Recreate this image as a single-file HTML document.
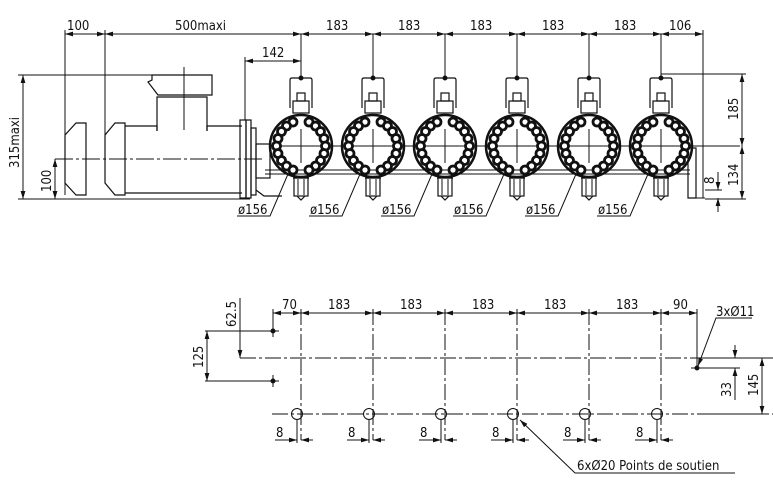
<!DOCTYPE html>
<html><head><meta charset="utf-8"><style>
html,body{margin:0;padding:0;background:#fff;}
svg{display:block;}
text{font-family:"DejaVu Sans Condensed","Liberation Sans",sans-serif;font-size:13px;fill:#111;}
</style></head><body>
<svg width="773" height="484" viewBox="0 0 773 484" xmlns="http://www.w3.org/2000/svg">
<defs>
<marker id="a" viewBox="0 0 10 6" refX="10" refY="3" markerWidth="8" markerHeight="5" orient="auto-start-reverse"><path d="M0,0L10,3L0,6z" fill="#111"/></marker>
<g id="pump" fill="none" stroke="#111">
 <line x1="0" y1="-112" x2="0" y2="-68" stroke-width="1"/>
 <circle cx="0" cy="-68" r="2" fill="#111"/>
 <path d="M-11,-38V-66Q-11,-68 -9,-68H9Q11,-68 11,-66V-38" stroke-width="1.2"/>
 <rect x="-4" y="-53" width="8" height="8" stroke-width="1.2"/>
 <rect x="-8" y="-45" width="16" height="12" stroke-width="1.2"/>
 <circle r="31" stroke-width="2.5"/>
 <g stroke-width="2.8" fill="#fff">
  <circle cx="-8" cy="-24" r="4"/><circle cx="-14.5" cy="-20" r="4"/><circle cx="-19.5" cy="-14.5" r="4"/><circle cx="-23" cy="-7.5" r="4"/><circle cx="-24.5" cy="0" r="4"/><circle cx="-23" cy="7.5" r="4"/><circle cx="-19.5" cy="14.5" r="4"/><circle cx="-14.5" cy="20" r="4"/><circle cx="-8" cy="24" r="4"/>
  <circle cx="8" cy="-24" r="4"/><circle cx="14.5" cy="-20" r="4"/><circle cx="19.5" cy="-14.5" r="4"/><circle cx="23" cy="-7.5" r="4"/><circle cx="24.5" cy="0" r="4"/><circle cx="23" cy="7.5" r="4"/><circle cx="19.5" cy="14.5" r="4"/><circle cx="14.5" cy="20" r="4"/><circle cx="8" cy="24" r="4"/>
 </g>
 <line x1="-17" y1="0" x2="17" y2="0" stroke-width="1"/><line x1="0" y1="-17" x2="0" y2="17" stroke-width="1"/>
 <rect x="-7" y="32" width="14" height="18" stroke-width="1.2"/>
 <line x1="-3" y1="33" x2="-3" y2="49" stroke-width="1"/><line x1="3" y1="33" x2="3" y2="49" stroke-width="1"/>
 <path d="M-4,50L0,54L4,50" stroke-width="1.2"/>
 <line x1="-8" y1="32" x2="8" y2="32" stroke-width="1.2"/>
</g>
</defs>

<g fill="none" stroke="#111" stroke-width="1">
 <line x1="65" y1="34" x2="105" y2="34" marker-start="url(#a)" marker-end="url(#a)"/>
 <line x1="105" y1="34" x2="301" y2="34" marker-start="url(#a)" marker-end="url(#a)"/>
 <line x1="301" y1="34" x2="373" y2="34" marker-start="url(#a)" marker-end="url(#a)"/>
 <line x1="373" y1="34" x2="445" y2="34" marker-start="url(#a)" marker-end="url(#a)"/>
 <line x1="445" y1="34" x2="517" y2="34" marker-start="url(#a)" marker-end="url(#a)"/>
 <line x1="517" y1="34" x2="589" y2="34" marker-start="url(#a)" marker-end="url(#a)"/>
 <line x1="589" y1="34" x2="661" y2="34" marker-start="url(#a)" marker-end="url(#a)"/>
 <line x1="661" y1="34" x2="703" y2="34" marker-start="url(#a)" marker-end="url(#a)"/>
 <line x1="65" y1="30" x2="65" y2="195"/>
 <line x1="105" y1="30" x2="105" y2="138"/>
 <line x1="703" y1="30" x2="703" y2="198"/>
 <line x1="245" y1="61" x2="301" y2="61" marker-start="url(#a)" marker-end="url(#a)"/>
 <line x1="245" y1="57" x2="245" y2="120"/>
 <line x1="18" y1="75" x2="212" y2="75"/>
 <line x1="23" y1="75" x2="23" y2="199" marker-start="url(#a)" marker-end="url(#a)"/>
 <line x1="18" y1="199" x2="250" y2="199"/>
 <line x1="55" y1="159" x2="55" y2="199" marker-start="url(#a)" marker-end="url(#a)"/>
 <path d="M86,123H76L65,135V183L76,195H86Z" stroke-width="1.2"/>
 <path d="M125,123H115L105,135V183L115,195H125Z" stroke-width="1.2"/>
 <path d="M125,126H157V131M207,131V126H242M125,193H242" stroke-width="1.2"/>
 <path d="M157,131V97H207V131" stroke-width="1.2"/>
 <path d="M152,75H212V95H158L148,82L152,80Z" stroke-width="1.2"/>
 <rect x="240" y="120" width="6" height="78" stroke-width="1.2"/>
 <rect x="246" y="120" width="5" height="78" stroke-width="1.2"/>
 <rect x="251" y="128" width="5" height="67" stroke-width="1.2"/>
 <rect x="256" y="144" width="14" height="34" stroke-width="1.2"/>
 <path d="M256,190L264,196H282" stroke-width="1.2"/>
 <line x1="184" y1="67" x2="184" y2="130"/>
 <line x1="55" y1="159" x2="265" y2="159" stroke-dasharray="18,3,3,3"/>
 <line x1="270" y1="146" x2="740" y2="146"/>
 <line x1="265" y1="174" x2="690" y2="174"/>
 <line x1="265" y1="170" x2="690" y2="170"/>
 <path d="M688,148H696V198H688Z" stroke-width="1.2"/>
 <path d="M688,198H705"/>
 <line x1="661" y1="74" x2="746" y2="74"/>
 <line x1="742" y1="74" x2="742" y2="146" marker-start="url(#a)" marker-end="url(#a)"/>
 <line x1="742" y1="146" x2="742" y2="199" marker-start="url(#a)" marker-end="url(#a)"/>
 <line x1="705" y1="199" x2="746" y2="199"/>
 <line x1="718" y1="172" x2="718" y2="190" marker-end="url(#a)"/>
 <line x1="718" y1="212" x2="718" y2="198" marker-end="url(#a)"/>
 <line x1="705" y1="190" x2="722" y2="190"/>
</g>
<use href="#pump" x="301" y="146"/><use href="#pump" x="373" y="146"/><use href="#pump" x="445" y="146"/>
<use href="#pump" x="517" y="146"/><use href="#pump" x="589" y="146"/><use href="#pump" x="661" y="146"/>

<g stroke="#111" stroke-width="1" fill="none">
 <path d="M237,216H270L288,174"/><path d="M309,216H342L360,174"/><path d="M381,216H414L432,174"/>
 <path d="M453,216H486L504,174"/><path d="M525,216H558L576,174"/><path d="M597,216H630L648,174"/>
</g>
<g>
<text x="67" y="30">100</text><text x="175" y="30">500maxi</text>
<text x="326" y="30">183</text><text x="398" y="30">183</text><text x="470" y="30">183</text><text x="542" y="30">183</text><text x="614" y="30">183</text><text x="669" y="30">106</text>
<text x="262" y="57">142</text>
<text transform="translate(19,168) rotate(-90)">315maxi</text>
<text transform="translate(51,192) rotate(-90)">100</text>
<text transform="translate(738,120) rotate(-90)">185</text>
<text transform="translate(738,186) rotate(-90)">134</text>
<text transform="translate(714,184) rotate(-90)">8</text>
<text x="238" y="214">ø156</text><text x="310" y="214">ø156</text><text x="382" y="214">ø156</text>
<text x="454" y="214">ø156</text><text x="526" y="214">ø156</text><text x="598" y="214">ø156</text>
</g>

<g fill="none" stroke="#111" stroke-width="1">
 <line x1="273" y1="313" x2="301" y2="313" marker-start="url(#a)" marker-end="url(#a)"/>
 <line x1="301" y1="313" x2="373" y2="313" marker-start="url(#a)" marker-end="url(#a)"/>
 <line x1="373" y1="313" x2="445" y2="313" marker-start="url(#a)" marker-end="url(#a)"/>
 <line x1="445" y1="313" x2="517" y2="313" marker-start="url(#a)" marker-end="url(#a)"/>
 <line x1="517" y1="313" x2="589" y2="313" marker-start="url(#a)" marker-end="url(#a)"/>
 <line x1="589" y1="313" x2="661" y2="313" marker-start="url(#a)" marker-end="url(#a)"/>
 <line x1="661" y1="313" x2="697" y2="313" marker-start="url(#a)" marker-end="url(#a)"/>
 <line x1="273" y1="309" x2="273" y2="328"/>
 <line x1="697" y1="309" x2="697" y2="368"/>
 <g stroke-dasharray="16,3,3,3">
  <line x1="301" y1="309" x2="301" y2="440"/><line x1="373" y1="309" x2="373" y2="440"/><line x1="445" y1="309" x2="445" y2="440"/>
  <line x1="517" y1="309" x2="517" y2="440"/><line x1="589" y1="309" x2="589" y2="440"/><line x1="661" y1="309" x2="661" y2="440"/>
  <line x1="240" y1="358" x2="773" y2="358"/>
  <line x1="272" y1="414" x2="773" y2="414"/>
 </g>
 <line x1="297" y1="420" x2="297" y2="443"/><line x1="369" y1="420" x2="369" y2="443"/><line x1="441" y1="420" x2="441" y2="443"/>
 <line x1="513" y1="420" x2="513" y2="443"/><line x1="585" y1="420" x2="585" y2="443"/><line x1="657" y1="420" x2="657" y2="443"/>
 <circle cx="297" cy="414" r="5.5"/><circle cx="369" cy="414" r="5.5"/><circle cx="441" cy="414" r="5.5"/>
 <circle cx="513" cy="414" r="5.5"/><circle cx="585" cy="414" r="5.5"/><circle cx="657" cy="414" r="5.5"/>
 <g>
  <line x1="275" y1="440" x2="297" y2="440" marker-end="url(#a)"/><line x1="313" y1="440" x2="301" y2="440" marker-end="url(#a)"/>
  <line x1="347" y1="440" x2="369" y2="440" marker-end="url(#a)"/><line x1="385" y1="440" x2="373" y2="440" marker-end="url(#a)"/>
  <line x1="419" y1="440" x2="441" y2="440" marker-end="url(#a)"/><line x1="457" y1="440" x2="445" y2="440" marker-end="url(#a)"/>
  <line x1="491" y1="440" x2="513" y2="440" marker-end="url(#a)"/><line x1="529" y1="440" x2="517" y2="440" marker-end="url(#a)"/>
  <line x1="563" y1="440" x2="585" y2="440" marker-end="url(#a)"/><line x1="601" y1="440" x2="589" y2="440" marker-end="url(#a)"/>
  <line x1="635" y1="440" x2="657" y2="440" marker-end="url(#a)"/><line x1="673" y1="440" x2="661" y2="440" marker-end="url(#a)"/>
 </g>
 <circle cx="273" cy="331" r="2" fill="#111"/><circle cx="273" cy="381" r="2" fill="#111"/><circle cx="697" cy="368" r="2" fill="#111"/>
 <path d="M267,331H279M273,325V337M267,381H279M273,375V387M691,368H703"/>
 <line x1="205" y1="331" x2="268" y2="331"/><line x1="205" y1="381" x2="268" y2="381"/>
 <line x1="207" y1="331" x2="207" y2="381" marker-start="url(#a)" marker-end="url(#a)"/>
 <line x1="240" y1="298" x2="240" y2="358" marker-end="url(#a)"/>
 <line x1="703" y1="358" x2="766" y2="358"/><line x1="703" y1="414" x2="766" y2="414"/>
 <line x1="762" y1="358" x2="762" y2="414" marker-start="url(#a)" marker-end="url(#a)"/>
 <line x1="703" y1="368" x2="740" y2="368"/>
 <line x1="735" y1="345" x2="735" y2="358" marker-end="url(#a)"/>
 <line x1="735" y1="400" x2="735" y2="368" marker-end="url(#a)"/>
 <path d="M752,318H716L698,366" marker-end="url(#a)"/>
 <path d="M735,473H575L520,420" marker-end="url(#a)"/>
</g>
<g>
<text x="282" y="309">70</text><text x="328" y="309">183</text><text x="400" y="309">183</text><text x="472" y="309">183</text>
<text x="544" y="309">183</text><text x="616" y="309">183</text><text x="673" y="309">90</text>
<text x="716" y="316">3x&#216;11</text>
<text transform="translate(236,327) rotate(-90)">62.5</text>
<text transform="translate(203,368) rotate(-90)">125</text>
<text transform="translate(731,397) rotate(-90)">33</text>
<text transform="translate(758,396) rotate(-90)">145</text>
<text x="276" y="437">8</text><text x="348" y="437">8</text><text x="420" y="437">8</text>
<text x="492" y="437">8</text><text x="564" y="437">8</text><text x="636" y="437">8</text>
<text x="577" y="470">6x&#216;20 Points de soutien</text>
</g>
</svg>
</body></html>
